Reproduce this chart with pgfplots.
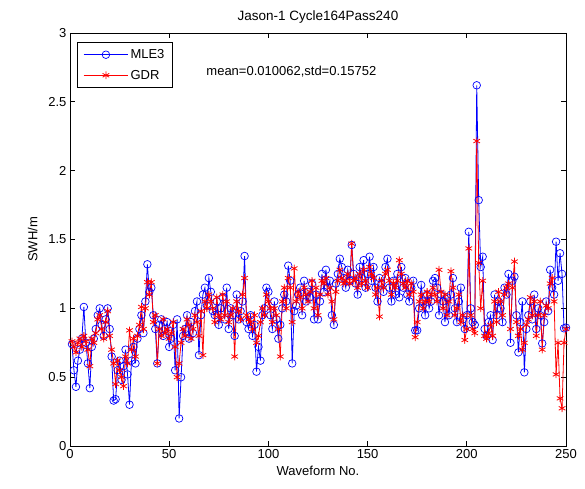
\documentclass[border=0pt]{standalone}
\usepackage{fontspec}
\setmainfont{Liberation Sans}
\usepackage{pgfplots}
\usepackage{pgfplotstable}
\pgfplotsset{compat=1.18}
\pgfplotstableread{
x mle gdr
1 0.74 0.76
2 0.55 0.72
3 0.43 0.68
4 0.62 0.75
5 0.70 0.78
6 0.78 0.72
7 1.01 0.80
8 0.75 0.76
9 0.60 0.70
10 0.42 0.58
11 0.72 0.78
12 0.78 0.75
13 0.85 0.82
14 0.95 0.92
15 1.00 0.95
16 0.88 0.85
17 0.80 0.78
18 0.92 0.90
19 1.00 0.98
20 0.85 0.80
21 0.65 0.70
22 0.33 0.60
23 0.34 0.45
24 0.55 0.62
25 0.62 0.55
26 0.48 0.50
27 0.58 0.435
28 0.70 0.65
29 0.52 0.60
30 0.30 0.84
31 0.62 0.70
32 0.72 0.78
33 0.60 0.65
34 0.78 0.80
35 0.85 0.88
36 0.95 1.01
37 0.82 0.85
38 1.05 1.00
39 1.32 1.19
40 1.12 1.10
41 1.15 1.19
42 0.95 0.90
43 0.85 0.95
44 0.60 0.60
45 0.88 0.85
46 0.92 0.80
47 0.80 0.92
48 0.85 0.82
49 0.90 0.85
50 0.72 0.78
51 0.78 0.82
52 0.88 0.90
53 0.55 0.72
54 0.92 0.50
55 0.20 0.60
56 0.50 0.75
57 0.80 0.85
58 0.85 0.80
59 0.95 0.92
60 0.78 0.88
61 0.90 0.78
62 0.82 0.85
63 0.98 0.95
64 1.05 0.90
65 0.66 0.80
66 0.95 0.98
67 1.10 0.66
68 1.15 1.05
69 1.02 1.00
70 1.22 1.10
71 1.12 1.05
72 0.98 1.00
73 0.95 0.90
74 1.05 1.08
75 0.88 0.95
76 1.00 0.92
77 1.08 1.10
78 0.92 0.95
79 1.15 1.05
80 0.85 0.90
81 1.00 0.95
82 0.95 1.00
83 0.80 0.65
84 1.10 1.05
85 0.92 0.98
86 0.98 0.92
87 1.05 1.10
88 1.38 1.22
89 0.90 0.95
90 0.85 0.92
91 0.95 0.90
92 0.80 0.85
93 0.88 0.95
94 0.54 0.75
95 0.72 0.80
96 0.62 0.90
97 0.95 1.00
98 1.00 0.95
99 1.15 1.10
100 1.12 1.05
101 0.95 1.00
102 0.85 0.90
103 1.05 1.00
104 0.92 0.95
105 0.78 0.85
106 0.88 0.65
107 1.00 1.05
108 1.10 1.15
109 1.05 1.00
110 1.31 1.22
111 1.20 1.15
112 0.60 0.90
113 0.98 1.29
114 1.02 1.05
115 1.10 1.12
116 1.15 1.08
117 0.95 1.00
118 1.20 1.15
119 1.05 1.10
120 1.12 1.05
121 1.08 1.12
122 1.18 1.20
123 0.92 1.00
124 1.10 1.15
125 0.92 0.95
126 1.05 1.10
127 1.25 1.20
128 1.12 1.18
129 1.28 1.22
130 1.15 1.10
131 1.20 1.15
132 0.95 1.05
133 0.88 0.92
134 1.18 1.12
135 1.25 1.20
136 1.36 1.28
137 1.30 1.22
138 1.22 1.18
139 1.15 1.20
140 1.28 1.25
141 1.20 1.18
142 1.46 1.47
143 1.25 1.20
144 1.18 1.22
145 1.10 1.15
146 1.30 1.25
147 1.22 1.18
148 1.35 1.28
149 1.15 1.20
150 1.25 1.15
151 1.375 1.30
152 1.20 1.25
153 1.30 1.22
154 1.15 1.10
155 1.05 1.15
156 1.22 0.94
157 1.18 1.20
158 1.12 1.15
159 1.30 1.25
160 1.36 1.28
161 1.15 1.20
162 1.05 1.10
163 1.20 1.18
164 1.10 1.15
165 1.25 1.20
166 1.08 1.35
167 1.30 1.25
168 1.15 1.18
169 1.22 1.15
170 1.10 1.20
171 1.05 1.10
172 1.15 1.18
173 1.20 1.12
174 0.84 0.79
175 0.84 0.90
176 1.00 1.05
177 1.17 1.10
178 1.05 1.00
179 0.95 1.05
180 1.10 1.12
181 1.00 1.05
182 1.05 1.10
183 1.20 1.15
184 1.22 1.10
185 1.15 1.05
186 0.95 1.28
187 1.10 1.12
188 1.05 1.00
189 0.90 1.10
190 1.08 0.95
191 0.95 1.05
192 1.10 1.27
193 1.22 1.15
194 1.00 0.95
195 0.90 1.00
196 1.05 1.10
197 1.15 0.90
198 0.92 0.95
199 0.85 0.77
200 0.95 0.85
201 1.556 1.435
202 1.00 0.95
203 0.90 0.85
204 0.88 0.82
205 2.62 2.215
206 1.786 1.33
207 1.30 1.00
208 1.375 1.20
209 0.85 0.80
210 0.80 0.78
211 0.90 0.82
212 0.95 0.88
213 0.77 0.80
214 1.10 1.05
215 0.95 0.90
216 1.05 1.12
217 1.00 1.05
218 0.90 0.95
219 1.15 1.10
220 1.10 1.15
221 1.25 1.18
222 0.75 0.85
223 1.20 1.15
224 1.23 1.34
225 0.95 0.90
226 0.68 0.80
227 0.90 0.85
228 1.05 0.70
229 0.535 0.75
230 0.85 0.88
231 0.95 0.92
232 1.05 1.08
233 0.92 0.95
234 1.10 1.05
235 0.85 0.80
236 1.00 0.95
237 0.95 1.05
238 0.745 0.70
239 0.90 0.95
240 1.05 1.02
241 0.98 1.00
242 1.28 1.18
243 1.15 1.22
244 1.10 1.05
245 1.484 0.52
246 1.20 0.75
247 1.40 0.346
248 1.25 0.274
249 0.855 0.75
250 0.86 0.85
}\data
\begin{document}
\begin{tikzpicture}
\begin{axis}[
  scale only axis,
  width=496pt, height=413pt,
  xmin=0, xmax=250, ymin=0, ymax=3,
  xtick={0,50,...,250},
  ytick={0,0.5,...,3},
  yticklabels={0,0.5,1,1.5,2,2.5,3},
  tick align=inside,
  major tick length=5pt,
  axis line style={line width=0.7pt},
  every tick/.style={black, line width=0.7pt},
  /pgf/number format/assume math mode=true,
  tick label style={font=\fontsize{13}{15}\selectfont},
  label style={font=\fontsize{13}{15}\selectfont},
  ylabel style={yshift=4pt},
  title style={font=\fontsize{13.5}{15}\selectfont},
  title={Jason-1 Cycle164Pass240},
  xlabel={Waveform No.},
  ylabel={SWH/m},
  legend style={at={(0.0141,0.978)}, anchor=north west, draw=black, line width=0.7pt,
     font=\fontsize{13}{15}\selectfont, cells={anchor=west}, inner xsep=6pt, inner ysep=5pt,
     row sep=6pt},
  legend image code/.code={\draw[mark repeat=2,mark phase=2] plot coordinates {(0cm,0cm) (0.78cm,0cm) (1.56cm,0cm)};},
]
\addplot[blue, line width=0.8pt, mark=o, mark size=3.8pt, mark options={solid, line width=0.7pt}] table[x=x, y=mle] {\data};
\addlegendentry{MLE3}
\addplot[red, line width=0.8pt, mark=asterisk, mark size=3.8pt, mark options={solid, line width=0.8pt}] table[x=x, y=gdr] {\data};
\addlegendentry{GDR}
\node[anchor=west, font=\fontsize{13}{15}\selectfont] at (axis cs:67,2.716) {mean=0.010062,std=0.15752};
\coordinate (bl) at (rel axis cs:-0.1411,-0.1017);
\coordinate (tr) at (rel axis cs:1.0383,1.0799);
\end{axis}
\pgfresetboundingbox
\path[use as bounding box] (bl) rectangle (tr);
\end{tikzpicture}
\end{document}
